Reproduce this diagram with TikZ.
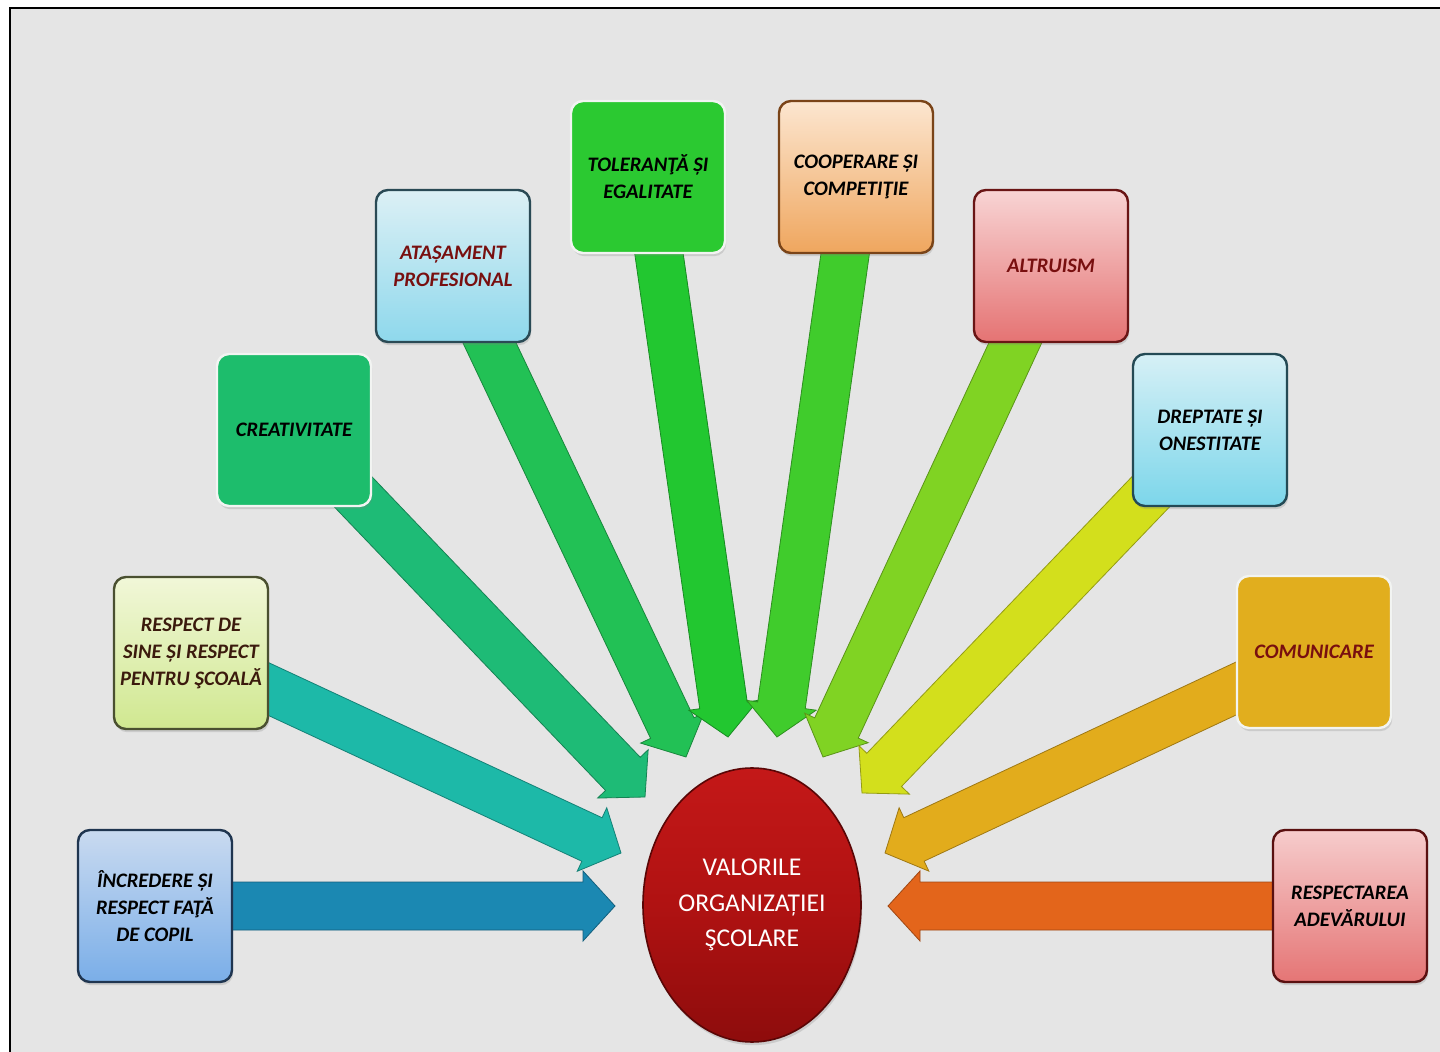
\documentclass[tikz,border=0pt]{standalone}
\usepackage{fontspec}
\setmainfont{Carlito}
\usetikzlibrary{calc,shadows,shapes.geometric}
\pgfdeclarelayer{back}
\pgfdeclarelayer{arrows}
\pgfsetlayers{back,arrows,main}

\definecolor{bgGray}{HTML}{E5E5E5}
\definecolor{aIncr}{HTML}{1B88B2}
\definecolor{aResp}{HTML}{1DB9A8}
\definecolor{aCrea}{HTML}{1EBB76}
\definecolor{aAtas}{HTML}{22C155}
\definecolor{aTol}{HTML}{22C730}
\definecolor{aCoop}{HTML}{40CC2C}
\definecolor{aAltr}{HTML}{80D323}
\definecolor{aDrep}{HTML}{D3DF1C}
\definecolor{aCom}{HTML}{E2AC1C}
\definecolor{aAdev}{HTML}{E3651B}
\definecolor{txtBrown}{HTML}{3B1A0D}
\definecolor{txtRed}{HTML}{780F0F}
% box colours
\definecolor{incrT}{HTML}{C9DAF0}\definecolor{incrB}{HTML}{7AAEE8}\definecolor{incrD}{HTML}{1F3550}
\definecolor{respT}{HTML}{F1F7D8}\definecolor{respB}{HTML}{D0E890}\definecolor{respD}{HTML}{4A5030}
\definecolor{creaF}{HTML}{1DBD6C}
\definecolor{atasT}{HTML}{DCF0F5}\definecolor{atasB}{HTML}{8ED8EC}\definecolor{atasD}{HTML}{2A4A55}
\definecolor{tolF}{HTML}{2BC931}
\definecolor{coopT}{HTML}{FCE6D0}\definecolor{coopB}{HTML}{EFA65E}\definecolor{coopD}{HTML}{7A4418}
\definecolor{altrT}{HTML}{F8D4D4}\definecolor{altrB}{HTML}{E57373}\definecolor{altrD}{HTML}{6A1515}
\definecolor{drepT}{HTML}{D6F0F6}\definecolor{drepB}{HTML}{7CD6EA}\definecolor{drepD}{HTML}{244A55}
\definecolor{comF}{HTML}{E1AE1E}
\definecolor{adevT}{HTML}{F6CCCC}\definecolor{adevB}{HTML}{E57575}\definecolor{adevD}{HTML}{5A1010}
\definecolor{valT}{HTML}{C41818}\definecolor{valM}{HTML}{B01212}\definecolor{valB}{HTML}{8E0C0C}
\definecolor{valD}{HTML}{5A0606}
\definecolor{lightEdge}{HTML}{F2F4F2}

\newcommand\blockarrow[3]{%
  \begin{pgfonlayer}{arrows}
  \path[fill=#3, draw=#3!70!black, line width=0.4pt]
    let \p1=(#1.center), \p2=(#2), \n1={atan2(\y2-\y1,\x2-\x1)} in
    ($(\p1)+(\n1+90:12pt)$)
    -- ($(\p2)+(\n1:-16pt)+(\n1+90:12pt)$)
    -- ($(\p2)+(\n1:-16pt)+(\n1+90:17.5pt)$)
    -- (\p2)
    -- ($(\p2)+(\n1:-16pt)+(\n1-90:17.5pt)$)
    -- ($(\p2)+(\n1:-16pt)+(\n1-90:12pt)$)
    -- ($(\p1)+(\n1-90:12pt)$) -- cycle;
  \end{pgfonlayer}}

\tikzset{
  vbox/.style={rectangle, rounded corners=6pt, minimum width=77pt, minimum height=76pt,
    line width=1.2pt, align=center, inner sep=2pt,
    font=\fontsize{10.3}{13.5}\selectfont\bfseries\itshape,
    drop shadow={opacity=0.25, shadow xshift=0.6pt, shadow yshift=-1.6pt}},
  gradbox/.style n args={3}{vbox, top color=#1, bottom color=#2, draw=#3},
  flatbox/.style={vbox, fill=#1, draw=lightEdge},
  centre/.style={ellipse, minimum width=109pt, minimum height=137pt, inner sep=0pt,
    top color=valT, bottom color=valB, middle color=valM,
    draw=valD, line width=0.8pt, text=white, align=center,
    font=\fontsize{12.8}{17.8}\selectfont,
    drop shadow={opacity=0.25, shadow xshift=0.6pt, shadow yshift=-1.6pt}}
}

\begin{document}
\begin{tikzpicture}[x=0.5pt, y=-0.5pt]
\useasboundingbox (0,0) rectangle (1440,1052);
\begin{pgfonlayer}{back}
  \fill[white] (0,0) rectangle (1440,1052);
  \fill[bgGray] (10,8) rectangle (1440,1052);
  \draw[line width=1pt] (1440,8) -- (10,8) -- (10,1052);
\end{pgfonlayer}

% boxes
\node[gradbox={incrT}{incrB}{incrD}] (incr) at (155,906)
  {ÎNCREDERE ȘI\\RESPECT FAŢĂ\\DE COPIL};
\node[gradbox={respT}{respB}{respD}, text=txtBrown] (resp) at (191,653)
  {RESPECT DE\\SINE ȘI RESPECT\\PENTRU ŞCOALĂ};
\node[flatbox=creaF] (crea) at (294,430) {CREATIVITATE};
\node[gradbox={atasT}{atasB}{atasD}, text=txtRed] (atas) at (453,266)
  {ATAȘAMENT\\PROFESIONAL};
\node[flatbox=tolF] (tol) at (648,177) {TOLERANŢĂ ȘI\\EGALITATE};
\node[gradbox={coopT}{coopB}{coopD}] (coop) at (856,177)
  {COOPERARE ȘI\\COMPETIŢIE};
\node[gradbox={altrT}{altrB}{altrD}, text=txtRed] (altr) at (1051,266)
  {ALTRUISM};
\node[gradbox={drepT}{drepB}{drepD}] (drep) at (1210,430)
  {DREPTATE ȘI\\ONESTITATE};
\node[flatbox=comF, text=txtRed] (com) at (1314,652) {COMUNICARE};
\node[gradbox={adevT}{adevB}{adevD}] (adev) at (1350,906)
  {RESPECTAREA\\ADEVĂRULUI};

% centre
\node[centre] (val) at (752,905) {VALORILE\\ORGANIZAȚIEI\\ŞCOLARE};

% arrow tips
\coordinate (tIncr) at (615,906);
\coordinate (tResp) at (621,853);
\coordinate (tCrea) at (645,797);
\coordinate (tAtas) at (686,757);
\coordinate (tTol) at (728,737);
\coordinate (tCoop) at (777,737);
\coordinate (tAltr) at (823,757);
\coordinate (tDrep) at (862,793);
\coordinate (tCom) at (885,853);
\coordinate (tAdev) at (888,906);

\blockarrow{incr}{tIncr}{aIncr}
\blockarrow{resp}{tResp}{aResp}
\blockarrow{crea}{tCrea}{aCrea}
\blockarrow{atas}{tAtas}{aAtas}
\blockarrow{tol}{tTol}{aTol}
\blockarrow{coop}{tCoop}{aCoop}
\blockarrow{altr}{tAltr}{aAltr}
\blockarrow{drep}{tDrep}{aDrep}
\blockarrow{com}{tCom}{aCom}
\blockarrow{adev}{tAdev}{aAdev}
\end{tikzpicture}
\end{document}
